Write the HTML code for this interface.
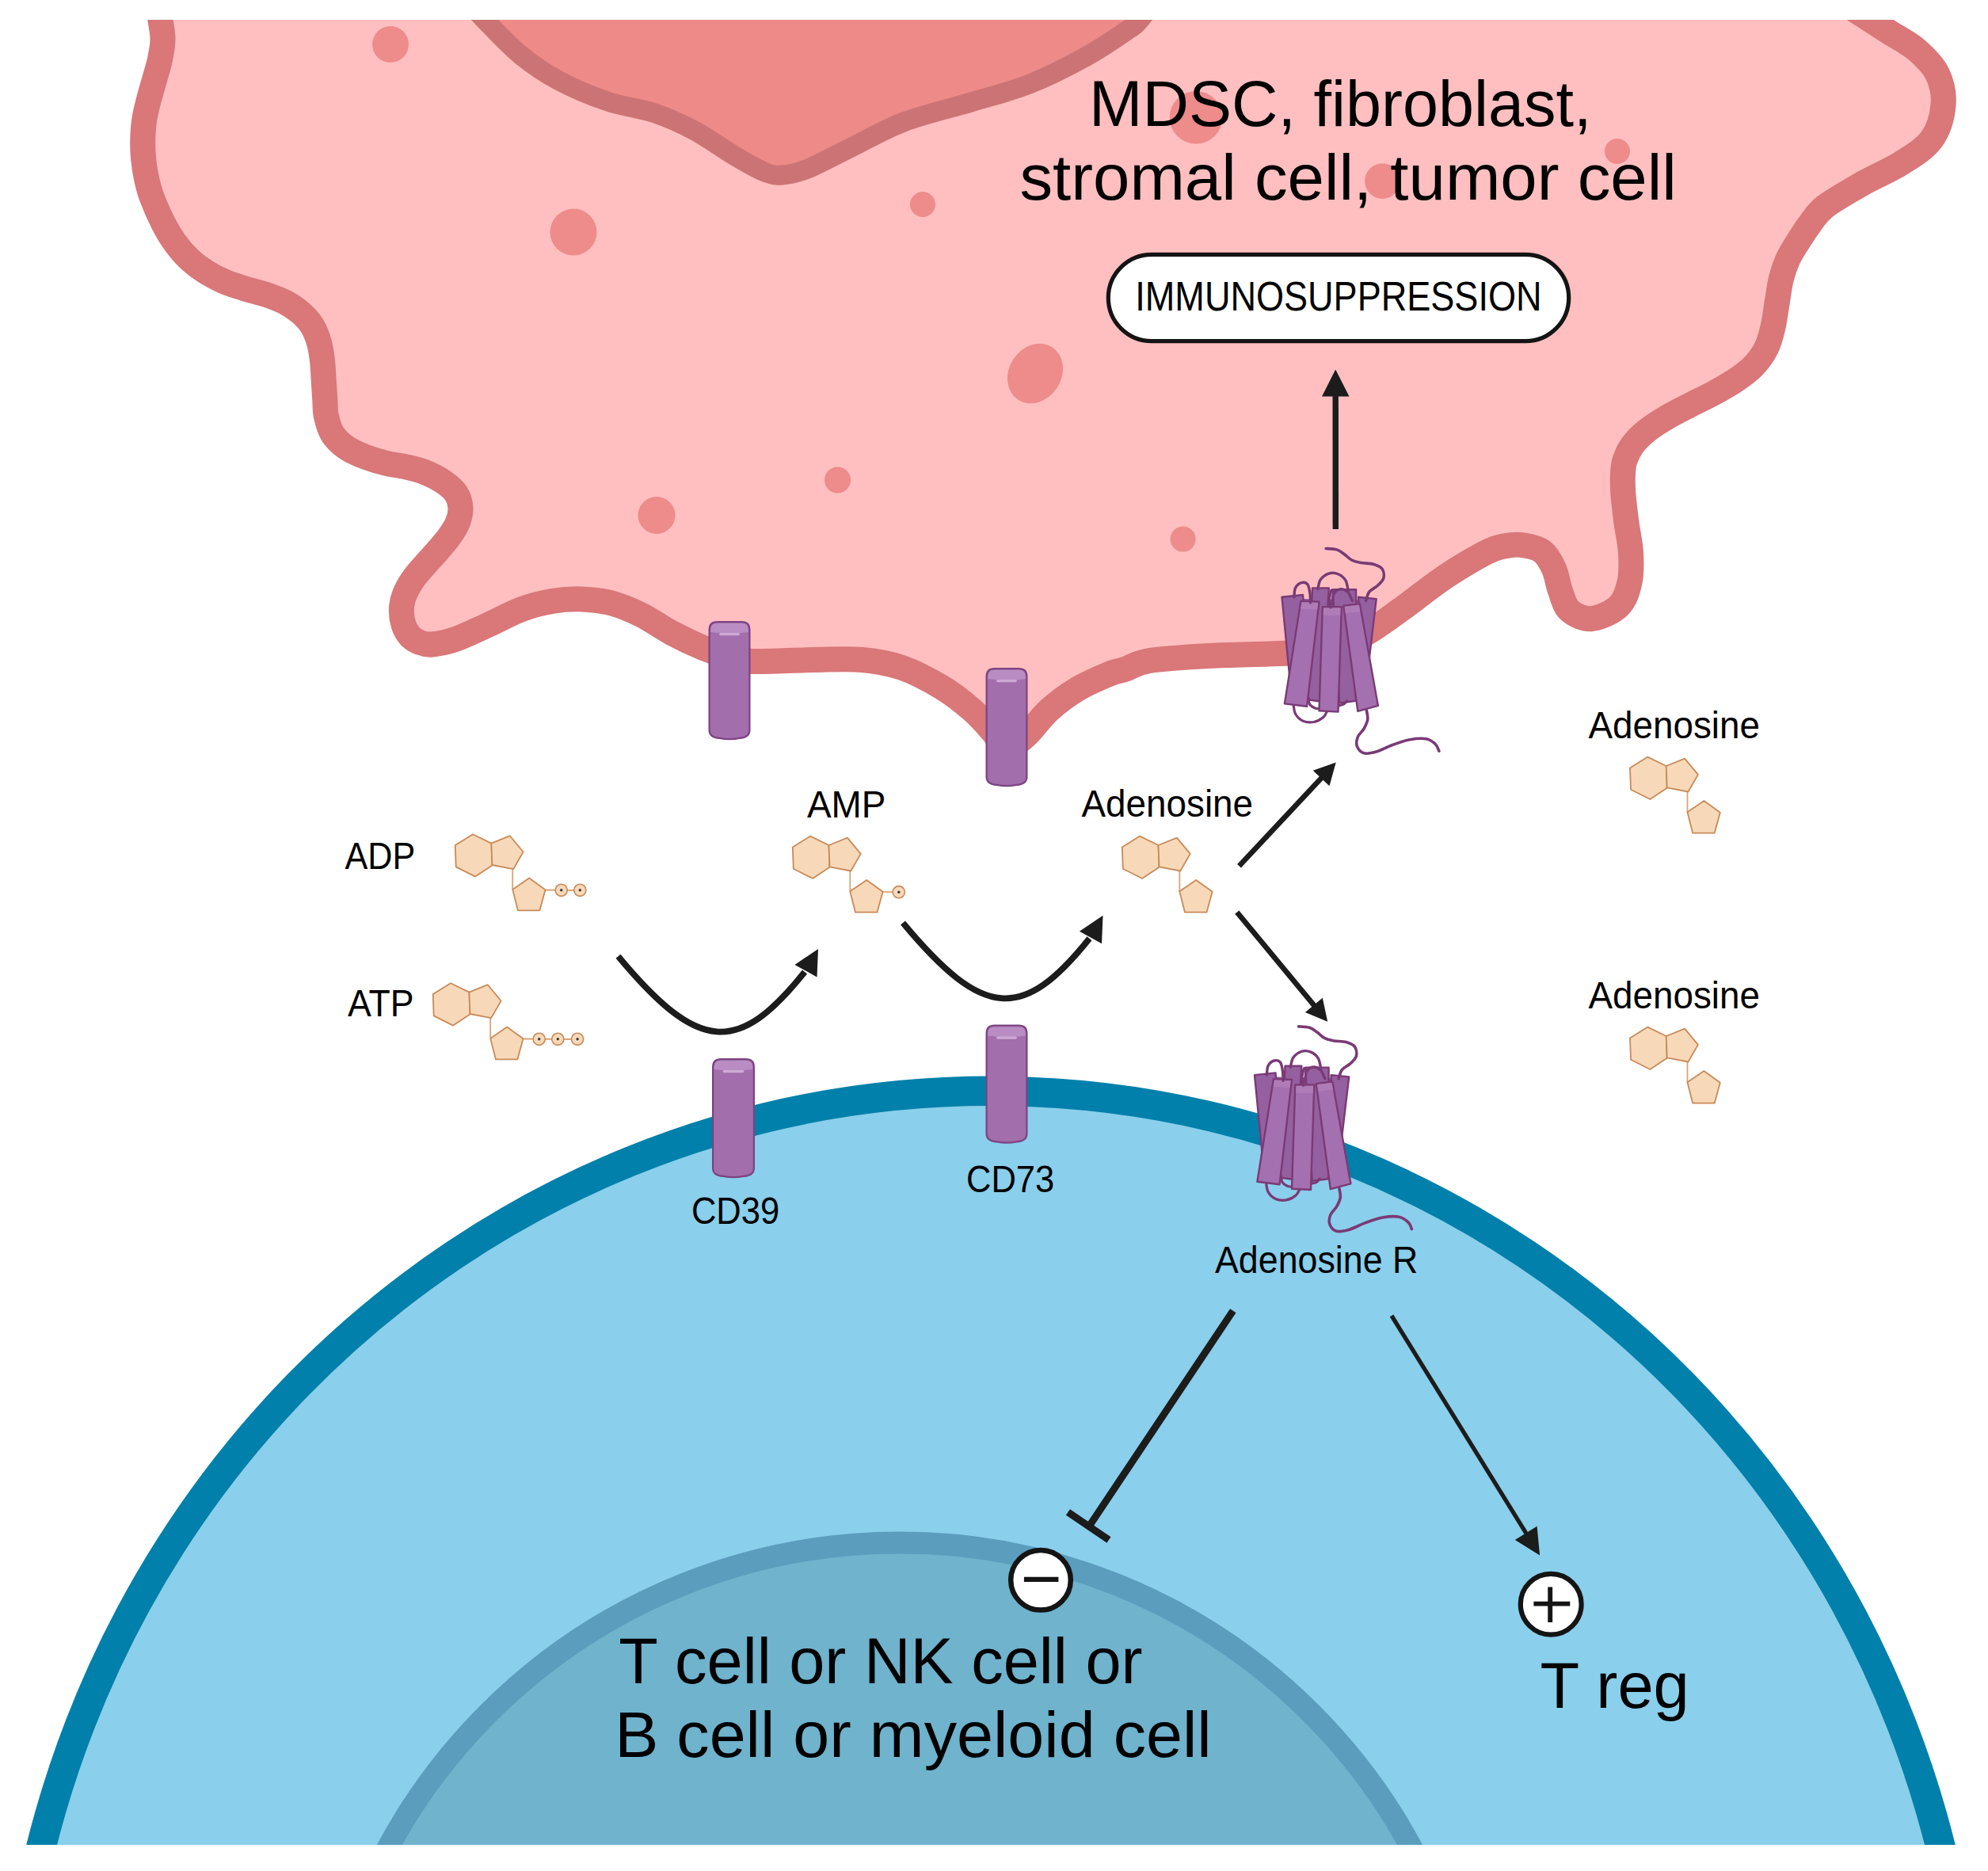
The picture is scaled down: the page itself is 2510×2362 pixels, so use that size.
<!DOCTYPE html>
<html><head><meta charset="utf-8"><title>Adenosine pathway</title>
<style>html,body{margin:0;padding:0;background:#fff;}svg{display:block;}text{font-family:"Liberation Sans",sans-serif;}</style>
</head><body>
<svg width="2510" height="2362" viewBox="0 0 2510 2362" font-family="Liberation Sans, sans-serif">
<defs><clipPath id="cl"><rect x="0" y="25" width="2510" height="2304"/></clipPath></defs>
<rect width="2510" height="2362" fill="#ffffff"/>
<g clip-path="url(#cl)">
<ellipse cx="1251" cy="2644.5" rx="1237.2" ry="1267.2" fill="#8acfeb" stroke="#0080aa" stroke-width="37.6"/>
<circle cx="1136" cy="2682" r="734.5" fill="#6fb3cd" stroke="#5a9dbd" stroke-width="28"/>
<path d="M196.0,-20.0 C197.1,-12.5 200.9,13.3 202.5,25.0 C204.1,36.7 205.6,41.7 205.5,50.0 C205.4,58.3 203.7,66.8 202.0,75.0 C200.3,83.2 197.8,90.8 195.5,99.0 C193.2,107.2 190.6,115.7 188.4,124.0 C186.2,132.3 183.9,140.7 182.6,149.0 C181.2,157.3 180.6,165.7 180.3,174.0 C180.0,182.3 180.3,190.7 181.0,199.0 C181.7,207.3 182.9,215.7 184.7,224.0 C186.5,232.3 188.2,239.6 191.7,249.0 C195.2,258.4 200.8,271.2 205.5,280.5 C210.2,289.8 214.4,297.1 219.8,304.7 C225.2,312.3 231.4,319.9 238.0,326.3 C244.6,332.7 252.1,338.1 259.5,342.9 C266.9,347.7 274.4,351.7 282.7,355.3 C291.0,358.9 300.3,361.6 309.2,364.4 C318.1,367.1 327.5,369.0 335.8,371.8 C344.1,374.6 351.8,377.3 359.0,381.0 C366.2,384.7 373.0,389.2 378.8,394.2 C384.6,399.2 389.8,404.4 393.8,410.8 C397.8,417.2 400.7,424.9 402.9,432.3 C405.1,439.8 406.0,447.5 407.0,455.5 C408.0,463.5 408.1,472.1 408.7,480.4 C409.2,488.7 409.8,497.8 410.3,505.2 C410.8,512.6 410.2,517.9 411.8,525.0 C413.4,532.1 415.8,541.4 419.9,548.0 C424.0,554.6 429.9,559.9 436.5,564.6 C443.1,569.3 451.4,572.9 459.7,576.2 C468.0,579.5 477.4,582.3 486.2,584.5 C495.0,586.7 504.4,587.6 512.7,589.5 C521.0,591.4 528.2,593.0 535.9,596.0 C543.6,599.0 552.4,603.3 559.0,607.7 C565.6,612.1 571.9,617.1 575.6,622.6 C579.3,628.1 581.0,634.7 581.4,640.8 C581.8,646.9 580.4,652.9 578.1,659.0 C575.8,665.1 571.7,671.2 567.4,677.3 C563.1,683.4 557.6,689.4 552.4,695.5 C547.1,701.6 541.1,707.7 535.9,713.8 C530.7,719.9 525.1,725.9 521.0,732.0 C516.9,738.1 513.4,744.1 511.0,750.2 C508.6,756.3 507.2,762.0 506.9,768.4 C506.6,774.8 507.6,782.5 509.4,788.3 C511.2,794.1 514.2,799.2 517.6,803.0 C521.0,806.8 525.3,809.2 530.0,811.0 C534.7,812.8 538.1,814.2 545.8,813.5 C553.5,812.8 564.3,810.8 576.0,806.7 C587.7,802.6 602.2,795.3 616.0,789.0 C629.8,782.7 645.5,774.0 659.0,769.0 C672.5,764.0 684.1,761.1 696.7,759.0 C709.3,756.9 721.9,756.0 734.4,756.4 C746.9,756.8 759.4,758.0 772.0,761.4 C784.6,764.8 797.3,770.2 810.0,776.5 C822.7,782.8 835.0,792.1 848.0,799.0 C861.0,805.9 876.0,813.0 888.0,818.0 C900.0,823.0 909.5,826.2 920.0,829.0 C930.5,831.8 933.3,834.3 951.0,835.0 C968.7,835.7 1003.0,833.3 1026.0,833.0 C1049.0,832.7 1070.2,831.3 1089.0,833.0 C1107.8,834.7 1122.2,837.2 1139.0,843.0 C1155.8,848.8 1174.8,859.2 1189.5,868.0 C1204.2,876.8 1216.6,887.0 1227.0,896.0 C1237.4,905.0 1244.5,913.3 1252.0,922.0 C1259.5,930.7 1268.7,943.7 1272.0,948.0 C1276.3,944.3 1289.2,934.7 1298.0,926.0 C1306.8,917.3 1314.5,905.4 1325.0,896.0 C1335.5,886.6 1348.5,877.0 1361.0,869.5 C1373.5,862.0 1390.2,855.1 1400.0,851.0 C1409.8,846.9 1411.4,847.8 1420.0,845.0 C1428.6,842.2 1433.7,836.8 1451.5,834.0 C1469.3,831.2 1501.9,829.4 1527.0,828.0 C1552.1,826.6 1581.5,826.3 1602.0,825.5 C1622.5,824.7 1635.2,824.6 1650.0,823.0 C1664.8,821.4 1677.8,820.3 1691.0,816.0 C1704.2,811.7 1716.2,804.7 1729.0,797.0 C1741.8,789.3 1752.0,781.5 1768.0,770.0 C1784.0,758.5 1806.8,740.2 1825.0,728.0 C1843.2,715.8 1864.7,703.4 1877.0,697.0 C1889.3,690.6 1891.7,691.0 1899.0,689.5 C1906.3,688.0 1913.0,686.9 1921.0,688.0 C1929.0,689.1 1940.2,691.0 1947.0,696.0 C1953.8,701.0 1958.2,709.7 1962.0,718.0 C1965.8,726.3 1966.7,737.2 1970.0,746.0 C1973.3,754.8 1975.3,765.2 1982.0,771.0 C1988.7,776.8 1999.7,782.0 2010.0,781.0 C2020.3,780.0 2036.1,772.7 2044.0,765.0 C2051.9,757.3 2055.0,746.2 2057.5,735.0 C2060.0,723.8 2059.7,710.5 2059.0,698.0 C2058.3,685.5 2055.1,672.2 2053.5,660.0 C2051.9,647.8 2050.3,635.0 2049.5,625.0 C2048.7,615.0 2048.6,607.2 2048.9,600.0 C2049.2,592.8 2049.3,588.0 2051.4,581.6 C2053.5,575.2 2056.6,568.1 2061.3,561.7 C2066.0,555.4 2072.3,549.3 2079.5,543.5 C2086.7,537.7 2095.6,532.2 2104.4,527.0 C2113.2,521.8 2122.9,517.0 2132.6,512.0 C2142.3,507.0 2152.7,502.2 2162.4,497.0 C2172.1,491.8 2182.0,486.4 2190.6,480.6 C2199.2,474.8 2207.2,469.2 2213.8,462.3 C2220.4,455.4 2226.2,447.3 2230.3,439.0 C2234.4,430.7 2236.4,422.0 2238.6,412.6 C2240.8,403.2 2241.9,392.7 2243.6,382.8 C2245.3,372.9 2246.4,362.1 2248.6,353.0 C2250.8,343.9 2253.6,335.7 2257.0,328.0 C2260.4,320.3 2264.3,314.5 2269.0,307.0 C2273.7,299.5 2279.2,290.7 2285.0,283.0 C2290.8,275.3 2293.0,269.5 2304.0,261.0 C2315.0,252.5 2334.9,241.2 2351.0,232.0 C2367.1,222.8 2385.8,215.4 2400.5,206.0 C2415.2,196.6 2430.2,187.8 2439.0,175.6 C2447.8,163.4 2452.3,146.4 2453.5,132.6 C2454.7,118.8 2451.6,104.6 2446.0,93.0 C2440.4,81.4 2430.0,71.7 2420.0,63.0 C2410.0,54.3 2395.7,47.2 2386.0,41.0 C2376.3,34.8 2376.3,35.0 2362.0,25.7 C2347.7,16.4 2310.3,-8.2 2300.0,-15.0 Z" fill="#ffbfc0" stroke="#d97779" stroke-width="32" stroke-linejoin="round"/>
<path d="M575.0,-15.0 C581.2,-8.3 598.2,10.8 612.0,25.0 C625.8,39.2 642.3,57.2 658.0,70.0 C673.7,82.8 687.8,92.3 706.0,102.0 C724.2,111.7 746.8,121.2 767.0,128.0 C787.2,134.8 808.7,136.8 827.0,143.0 C845.3,149.2 860.2,156.0 877.0,165.0 C893.8,174.0 913.3,188.3 928.0,197.0 C942.7,205.7 955.0,213.0 965.0,217.0 C975.0,221.0 978.8,221.7 988.0,221.0 C997.2,220.3 1005.5,218.8 1020.0,213.0 C1034.5,207.2 1054.8,195.8 1075.0,186.0 C1095.2,176.2 1115.8,163.5 1141.0,154.0 C1166.2,144.5 1199.5,137.0 1226.0,129.0 C1252.5,121.0 1275.7,115.7 1300.0,106.0 C1324.3,96.3 1351.2,82.5 1372.0,71.0 C1392.8,59.5 1413.8,44.7 1425.0,37.0 C1436.2,29.3 1431.5,33.7 1439.0,25.0 C1446.5,16.3 1464.8,-8.3 1470.0,-15.0 Z" fill="#ee8b89" stroke="#cc7475" stroke-width="25" stroke-linejoin="round"/>
<circle cx="493.0" cy="56.0" r="23.0" fill="#ee8b8b"/>
<circle cx="724.0" cy="293.0" r="29.5" fill="#ee8b8b"/>
<circle cx="1165.0" cy="258.0" r="16.0" fill="#ee8b8b"/>
<circle cx="1057.5" cy="606.0" r="16.5" fill="#ee8b8b"/>
<circle cx="829.0" cy="650.5" r="23.5" fill="#ee8b8b"/>
<circle cx="1510.0" cy="148.3" r="33.3" fill="#ee8b8b"/>
<circle cx="1745.5" cy="228.6" r="22.3" fill="#ee8b8b"/>
<circle cx="2042.0" cy="191.0" r="16.0" fill="#ee8b8b"/>
<circle cx="1493.6" cy="680.6" r="16.0" fill="#ee8b8b"/>
<ellipse cx="1307" cy="471.5" rx="39.5" ry="33" transform="rotate(-57 1307 471.5)" fill="#ee8b8b"/>
</g>
<g><path d="M895.6,795.1 Q895.6,785.1 905.6,785.1 L936.4,785.1 Q946.4,785.1 946.4,795.1 L946.4,921.9 Q946.4,930.9 933.4,931.9 Q921.0,934.4 908.6,931.9 Q895.6,930.9 895.6,921.9 Z" fill="#a26eab" stroke="#7d4382" stroke-width="2.2" stroke-linejoin="round"/><path d="M897.2,798.1 L897.2,795.1 Q897.2,786.7 905.6,786.7 L936.4,786.7 Q944.8,786.7 944.8,795.1 L944.8,798.1 Q921.0,801.1 897.2,798.1 Z" fill="#b98dc4"/><path d="M909.6,800.6 L932.4,800.6" fill="none" stroke="#cfa9d6" stroke-width="3.2" stroke-linecap="round"/></g>
<g><path d="M1245.6,854.1 Q1245.6,844.1 1255.6,844.1 L1286.4,844.1 Q1296.4,844.1 1296.4,854.1 L1296.4,980.9 Q1296.4,989.9 1283.4,990.9 Q1271.0,993.4 1258.6,990.9 Q1245.6,989.9 1245.6,980.9 Z" fill="#a26eab" stroke="#7d4382" stroke-width="2.2" stroke-linejoin="round"/><path d="M1247.2,857.1 L1247.2,854.1 Q1247.2,845.7 1255.6,845.7 L1286.4,845.7 Q1294.8,845.7 1294.8,854.1 L1294.8,857.1 Q1271.0,860.1 1247.2,857.1 Z" fill="#b98dc4"/><path d="M1259.6,859.6 L1282.4,859.6" fill="none" stroke="#cfa9d6" stroke-width="3.2" stroke-linecap="round"/></g>
<g><path d="M900.1,1347.1 Q900.1,1337.1 910.1,1337.1 L941.9,1337.1 Q951.9,1337.1 951.9,1347.1 L951.9,1474.9 Q951.9,1483.9 938.9,1484.9 Q926.0,1487.4 913.1,1484.9 Q900.1,1483.9 900.1,1474.9 Z" fill="#a26eab" stroke="#7d4382" stroke-width="2.2" stroke-linejoin="round"/><path d="M901.7,1350.1 L901.7,1347.1 Q901.7,1338.7 910.1,1338.7 L941.9,1338.7 Q950.3,1338.7 950.3,1347.1 L950.3,1350.1 Q926.0,1353.1 901.7,1350.1 Z" fill="#b98dc4"/><path d="M914.1,1352.6 L937.9,1352.6" fill="none" stroke="#cfa9d6" stroke-width="3.2" stroke-linecap="round"/></g>
<g><path d="M1245.6,1304.6 Q1245.6,1294.6 1255.6,1294.6 L1286.4,1294.6 Q1296.4,1294.6 1296.4,1304.6 L1296.4,1431.4 Q1296.4,1440.4 1283.4,1441.4 Q1271.0,1443.9 1258.6,1441.4 Q1245.6,1440.4 1245.6,1431.4 Z" fill="#a26eab" stroke="#7d4382" stroke-width="2.2" stroke-linejoin="round"/><path d="M1247.2,1307.6 L1247.2,1304.6 Q1247.2,1296.2 1255.6,1296.2 L1286.4,1296.2 Q1294.8,1296.2 1294.8,1304.6 L1294.8,1307.6 Q1271.0,1310.6 1247.2,1307.6 Z" fill="#b98dc4"/><path d="M1259.6,1310.1 L1282.4,1310.1" fill="none" stroke="#cfa9d6" stroke-width="3.2" stroke-linecap="round"/></g>
<g transform="translate(1580.0,660.0)" stroke="#7a3a76" stroke-width="2.4" stroke-linejoin="round" stroke-linecap="round"><polygon points="51.3,95.8 150.5,97.5 136.8,222.4 51.3,222.4" fill="#8f5a9a" stroke="none"/><polygon points="38.5,93.7 65.0,91.0 75.3,222.4 51.3,225.8" fill="#9560a0"/><polygon points="77.0,82.4 97.8,82.4 88.9,225.8 71.0,223.2" fill="#9560a0"/><polygon points="102.6,84.2 132.1,84.2 131.7,224.9 111.2,227.5" fill="#9560a0"/><polygon points="135.1,93.7 157.7,96.1 148.8,171.1 136.8,171.1" fill="#9560a0"/><path d="M53.0,229.2 C53.5,231.2 53.6,237.7 55.6,241.2 C57.6,244.7 61.2,248.4 65.0,250.1 C68.9,251.8 74.4,252.2 78.7,251.5 C83.0,250.7 87.8,247.9 90.7,245.5 C93.6,243.0 95.2,238.3 96.1,236.9" fill="none" stroke-width="3.2"/><path d="M71.8,220.7 C72.1,222.1 72.1,227.0 73.6,229.2 C75.0,231.4 78.1,233.1 80.4,234.0 C82.7,234.9 86.1,234.6 87.2,234.7" fill="none" stroke-width="3.2"/><path d="M109.5,230.9 C110.6,230.6 114.5,230.2 116.3,229.2 C118.2,228.2 119.9,225.7 120.6,224.9" fill="none" stroke-width="3.2"/><path d="M83.8,83.8 C84.4,81.8 85.0,75.1 87.2,71.8 C89.5,68.6 93.8,65.3 97.5,64.1 C101.2,62.9 105.9,63.2 109.5,64.7 C113.0,66.1 116.7,69.1 118.9,72.7 C121.0,76.3 121.7,84.1 122.3,86.4" fill="none" stroke-width="3.4"/><path d="M102.6,102.6 C102.8,100.6 102.1,93.8 103.5,90.7 C104.9,87.5 108.2,84.4 111.2,83.8 C114.2,83.2 118.7,84.8 121.5,87.2 C124.2,89.7 126.4,96.5 127.4,98.4" fill="none" stroke-width="3.4"/><polygon points="62.4,98.7 85.5,99.6 70.1,231.8 41.9,228.4" fill="#a570b0"/><polygon points="89.8,106.1 113.8,106.1 109.5,238.6 85.5,237.3" fill="#a570b0"/><polygon points="116.3,104.7 136.8,102.1 159.9,230.9 134.3,237.8" fill="#a570b0"/><polygon points="63.6,100.2 84.3,100.9 83.1,109.5 62.3,108.5" fill="#af7cb8" stroke="none"/><polygon points="91.0,107.4 112.6,107.4 112.2,116.7 90.7,116.7" fill="#af7cb8" stroke="none"/><polygon points="117.7,105.7 135.8,103.7 137.4,112.0 118.7,114.3" fill="#af7cb8" stroke="none"/><path d="M53.9,93.7 C54.2,91.8 54.0,85.1 55.6,82.1 C57.2,79.1 60.7,76.3 63.3,75.6 C65.9,74.9 69.2,75.6 71.0,77.8 C72.8,80.1 73.3,85.1 73.9,88.9 C74.5,92.8 74.5,98.9 74.6,100.9" fill="none" stroke-width="3.4"/><path d="M100.1,106.9 C99.8,105.1 98.2,99.4 98.4,95.8 C98.5,92.2 100.5,87.2 100.9,85.5" fill="none" stroke-width="3.4"/><path d="M144.5,98.4 C145.3,96.5 146.4,90.4 148.8,87.2 C151.2,84.1 156.1,82.4 159.1,79.5 C162.1,76.7 165.8,73.7 166.8,70.1 C167.8,66.6 167.2,61.2 165.1,58.2 C162.9,55.2 158.4,53.5 154.0,52.2 C149.5,50.9 143.1,51.3 138.6,50.5 C134.0,49.6 130.0,48.8 126.6,47.0 C123.2,45.3 121.2,42.4 118.0,40.2 C114.9,38.0 111.8,35.2 107.8,33.9 C103.8,32.6 96.4,32.7 94.1,32.5" fill="none" stroke-width="3.6"/><path d="M145.4,236.9 C145.6,238.8 147.3,244.2 146.8,248.0 C146.2,251.9 144.1,256.3 142.0,260.0 C139.9,263.7 135.7,266.6 134.3,270.3 C132.9,274.0 132.1,278.8 133.4,282.2 C134.7,285.7 138.0,289.7 142.0,290.8 C146.0,291.9 151.4,290.8 157.4,289.1 C163.4,287.4 170.8,283.1 177.9,280.5 C185.0,278.0 193.0,275.0 200.1,273.7 C207.3,272.4 215.2,271.8 220.7,272.8 C226.1,273.8 229.9,277.1 232.6,279.7 C235.3,282.2 236.2,286.8 236.9,288.2" fill="none" stroke-width="3.6"/></g>
<g transform="translate(1545.5,1263.4)" stroke="#7a3a76" stroke-width="2.4" stroke-linejoin="round" stroke-linecap="round"><polygon points="51.3,95.8 150.5,97.5 136.8,222.4 51.3,222.4" fill="#8f5a9a" stroke="none"/><polygon points="38.5,93.7 65.0,91.0 75.3,222.4 51.3,225.8" fill="#9560a0"/><polygon points="77.0,82.4 97.8,82.4 88.9,225.8 71.0,223.2" fill="#9560a0"/><polygon points="102.6,84.2 132.1,84.2 131.7,224.9 111.2,227.5" fill="#9560a0"/><polygon points="135.1,93.7 157.7,96.1 148.8,171.1 136.8,171.1" fill="#9560a0"/><path d="M53.0,229.2 C53.5,231.2 53.6,237.7 55.6,241.2 C57.6,244.7 61.2,248.4 65.0,250.1 C68.9,251.8 74.4,252.2 78.7,251.5 C83.0,250.7 87.8,247.9 90.7,245.5 C93.6,243.0 95.2,238.3 96.1,236.9" fill="none" stroke-width="3.2"/><path d="M71.8,220.7 C72.1,222.1 72.1,227.0 73.6,229.2 C75.0,231.4 78.1,233.1 80.4,234.0 C82.7,234.9 86.1,234.6 87.2,234.7" fill="none" stroke-width="3.2"/><path d="M109.5,230.9 C110.6,230.6 114.5,230.2 116.3,229.2 C118.2,228.2 119.9,225.7 120.6,224.9" fill="none" stroke-width="3.2"/><path d="M83.8,83.8 C84.4,81.8 85.0,75.1 87.2,71.8 C89.5,68.6 93.8,65.3 97.5,64.1 C101.2,62.9 105.9,63.2 109.5,64.7 C113.0,66.1 116.7,69.1 118.9,72.7 C121.0,76.3 121.7,84.1 122.3,86.4" fill="none" stroke-width="3.4"/><path d="M102.6,102.6 C102.8,100.6 102.1,93.8 103.5,90.7 C104.9,87.5 108.2,84.4 111.2,83.8 C114.2,83.2 118.7,84.8 121.5,87.2 C124.2,89.7 126.4,96.5 127.4,98.4" fill="none" stroke-width="3.4"/><polygon points="62.4,98.7 85.5,99.6 70.1,231.8 41.9,228.4" fill="#a570b0"/><polygon points="89.8,106.1 113.8,106.1 109.5,238.6 85.5,237.3" fill="#a570b0"/><polygon points="116.3,104.7 136.8,102.1 159.9,230.9 134.3,237.8" fill="#a570b0"/><polygon points="63.6,100.2 84.3,100.9 83.1,109.5 62.3,108.5" fill="#af7cb8" stroke="none"/><polygon points="91.0,107.4 112.6,107.4 112.2,116.7 90.7,116.7" fill="#af7cb8" stroke="none"/><polygon points="117.7,105.7 135.8,103.7 137.4,112.0 118.7,114.3" fill="#af7cb8" stroke="none"/><path d="M53.9,93.7 C54.2,91.8 54.0,85.1 55.6,82.1 C57.2,79.1 60.7,76.3 63.3,75.6 C65.9,74.9 69.2,75.6 71.0,77.8 C72.8,80.1 73.3,85.1 73.9,88.9 C74.5,92.8 74.5,98.9 74.6,100.9" fill="none" stroke-width="3.4"/><path d="M100.1,106.9 C99.8,105.1 98.2,99.4 98.4,95.8 C98.5,92.2 100.5,87.2 100.9,85.5" fill="none" stroke-width="3.4"/><path d="M144.5,98.4 C145.3,96.5 146.4,90.4 148.8,87.2 C151.2,84.1 156.1,82.4 159.1,79.5 C162.1,76.7 165.8,73.7 166.8,70.1 C167.8,66.6 167.2,61.2 165.1,58.2 C162.9,55.2 158.4,53.5 154.0,52.2 C149.5,50.9 143.1,51.3 138.6,50.5 C134.0,49.6 130.0,48.8 126.6,47.0 C123.2,45.3 121.2,42.4 118.0,40.2 C114.9,38.0 111.8,35.2 107.8,33.9 C103.8,32.6 96.4,32.7 94.1,32.5" fill="none" stroke-width="3.6"/><path d="M145.4,236.9 C145.6,238.8 147.3,244.2 146.8,248.0 C146.2,251.9 144.1,256.3 142.0,260.0 C139.9,263.7 135.7,266.6 134.3,270.3 C132.9,274.0 132.1,278.8 133.4,282.2 C134.7,285.7 138.0,289.7 142.0,290.8 C146.0,291.9 151.4,290.8 157.4,289.1 C163.4,287.4 170.8,283.1 177.9,280.5 C185.0,278.0 193.0,275.0 200.1,273.7 C207.3,272.4 215.2,271.8 220.7,272.8 C226.1,273.8 229.9,277.1 232.6,279.7 C235.3,282.2 236.2,286.8 236.9,288.2" fill="none" stroke-width="3.6"/></g>
<g transform="translate(574.7,1067.0)" fill="#f7d9ba" stroke="#c98a58" stroke-width="1.8" stroke-linejoin="round"><path d="M72.5,30.1 L72.5,55.9" fill="none" stroke="#d9a277"/><path d="M113.8,56.5 L157.6,57" fill="none" stroke="#d9a277"/><polygon points="0.0,0.0 22.3,-13.8 45.7,-2.4 46.7,25.4 25.4,39.6 1.0,27.4"/><polygon points="45.7,-2.4 69.1,-11.8 85.9,8.5 73.5,30.1 46.7,25.0"/><polygon points="72.5,55.9 93.4,41.6 113.8,56.3 106.7,82.3 79.2,82.3"/><circle cx="134.0" cy="56.8" r="7.6" stroke-width="1.6"/><circle cx="134.0" cy="56.8" r="1.7" fill="#3a3a3a" stroke="none"/><circle cx="157.6" cy="56.8" r="7.6" stroke-width="1.6"/><circle cx="157.6" cy="56.8" r="1.7" fill="#3a3a3a" stroke="none"/></g>
<g transform="translate(546.7,1255.0)" fill="#f7d9ba" stroke="#c98a58" stroke-width="1.8" stroke-linejoin="round"><path d="M72.5,30.1 L72.5,55.9" fill="none" stroke="#d9a277"/><path d="M113.8,56.5 L182.4,57" fill="none" stroke="#d9a277"/><polygon points="0.0,0.0 22.3,-13.8 45.7,-2.4 46.7,25.4 25.4,39.6 1.0,27.4"/><polygon points="45.7,-2.4 69.1,-11.8 85.9,8.5 73.5,30.1 46.7,25.0"/><polygon points="72.5,55.9 93.4,41.6 113.8,56.3 106.7,82.3 79.2,82.3"/><circle cx="134.0" cy="56.8" r="7.6" stroke-width="1.6"/><circle cx="134.0" cy="56.8" r="1.7" fill="#3a3a3a" stroke="none"/><circle cx="157.6" cy="56.8" r="7.6" stroke-width="1.6"/><circle cx="157.6" cy="56.8" r="1.7" fill="#3a3a3a" stroke="none"/><circle cx="182.4" cy="56.8" r="7.6" stroke-width="1.6"/><circle cx="182.4" cy="56.8" r="1.7" fill="#3a3a3a" stroke="none"/></g>
<g transform="translate(1000.8,1069.4)" fill="#f7d9ba" stroke="#c98a58" stroke-width="1.8" stroke-linejoin="round"><path d="M72.5,30.1 L72.5,55.9" fill="none" stroke="#d9a277"/><path d="M113.8,56.5 L134.0,57" fill="none" stroke="#d9a277"/><polygon points="0.0,0.0 22.3,-13.8 45.7,-2.4 46.7,25.4 25.4,39.6 1.0,27.4"/><polygon points="45.7,-2.4 69.1,-11.8 85.9,8.5 73.5,30.1 46.7,25.0"/><polygon points="72.5,55.9 93.4,41.6 113.8,56.3 106.7,82.3 79.2,82.3"/><circle cx="134.0" cy="56.8" r="7.6" stroke-width="1.6"/><circle cx="134.0" cy="56.8" r="1.7" fill="#3a3a3a" stroke="none"/></g>
<g transform="translate(1416.8,1069.4)" fill="#f7d9ba" stroke="#c98a58" stroke-width="1.8" stroke-linejoin="round"><path d="M72.5,30.1 L72.5,55.9" fill="none" stroke="#d9a277"/><polygon points="0.0,0.0 22.3,-13.8 45.7,-2.4 46.7,25.4 25.4,39.6 1.0,27.4"/><polygon points="45.7,-2.4 69.1,-11.8 85.9,8.5 73.5,30.1 46.7,25.0"/><polygon points="72.5,55.9 93.4,41.6 113.8,56.3 106.7,82.3 79.2,82.3"/></g>
<g transform="translate(2058.0,969.4)" fill="#f7d9ba" stroke="#c98a58" stroke-width="1.8" stroke-linejoin="round"><path d="M72.5,30.1 L72.5,55.9" fill="none" stroke="#d9a277"/><polygon points="0.0,0.0 22.3,-13.8 45.7,-2.4 46.7,25.4 25.4,39.6 1.0,27.4"/><polygon points="45.7,-2.4 69.1,-11.8 85.9,8.5 73.5,30.1 46.7,25.0"/><polygon points="72.5,55.9 93.4,41.6 113.8,56.3 106.7,82.3 79.2,82.3"/></g>
<g transform="translate(2058.0,1310.4)" fill="#f7d9ba" stroke="#c98a58" stroke-width="1.8" stroke-linejoin="round"><path d="M72.5,30.1 L72.5,55.9" fill="none" stroke="#d9a277"/><polygon points="0.0,0.0 22.3,-13.8 45.7,-2.4 46.7,25.4 25.4,39.6 1.0,27.4"/><polygon points="45.7,-2.4 69.1,-11.8 85.9,8.5 73.5,30.1 46.7,25.0"/><polygon points="72.5,55.9 93.4,41.6 113.8,56.3 106.7,82.3 79.2,82.3"/></g>
<g transform="translate(0.0,0.0)"><path d="M780.5,1207.3 C881.9,1329.3 931.9,1332.3 1016,1227" fill="none" stroke="#1c1c1c" stroke-width="7.8"/><polygon points="1033,1198 1003.4,1217.9 1031.5,1233.4" fill="#1c1c1c"/></g>
<g transform="translate(359.5,-42.2)"><path d="M780.5,1207.3 C881.9,1329.3 931.9,1332.3 1016,1227" fill="none" stroke="#1c1c1c" stroke-width="7.8"/><polygon points="1033,1198 1003.4,1217.9 1031.5,1233.4" fill="#1c1c1c"/></g>
<line x1="1686.3" y1="668.0" x2="1686.2" y2="498.4" stroke="#1c1c1c" stroke-width="7.4"/><polygon points="1686.2,466.4 1703.5,500.4 1669.0,500.4" fill="#1c1c1c"/>
<line x1="1564.5" y1="1093.2" x2="1669.5" y2="981.0" stroke="#1c1c1c" stroke-width="6.7"/><polygon points="1686.7,962.6 1678.5,992.2 1657.7,972.7" fill="#1c1c1c"/>
<line x1="1561.8" y1="1151.7" x2="1660.1" y2="1270.4" stroke="#1c1c1c" stroke-width="6.7"/><polygon points="1676.2,1289.8 1647.9,1277.9 1669.8,1259.8" fill="#1c1c1c"/>
<line x1="1757.0" y1="1661.0" x2="1927.8" y2="1937.1" stroke="#1c1c1c" stroke-width="5.3"/><polygon points="1944.1,1963.5 1912.8,1944.0 1940.6,1926.8" fill="#1c1c1c"/>
<line x1="1556.8" y1="1654.7" x2="1375" y2="1927" stroke="#1c1c1c" stroke-width="9"/>
<line x1="1348.4" y1="1909" x2="1400" y2="1944" stroke="#1c1c1c" stroke-width="9"/>
<circle cx="1314" cy="1994.8" r="37.8" fill="#fff" stroke="#141414" stroke-width="6.5"/>
<line x1="1292.9" y1="1993.9" x2="1336.4" y2="1993.9" stroke="#141414" stroke-width="6.3"/>
<circle cx="1958.2" cy="2025.2" r="38.4" fill="#fff" stroke="#141414" stroke-width="6.2"/>
<line x1="1936.4" y1="2024.6" x2="1982.3" y2="2024.6" stroke="#141414" stroke-width="5.9"/>
<line x1="1957.2" y1="2003.5" x2="1957.2" y2="2048" stroke="#141414" stroke-width="5.9"/>
<rect x="1399.3" y="321.3" width="581.4" height="109.4" rx="54.7" fill="#fff" stroke="#141414" stroke-width="5.2"/>
<g fill="#000">
<text x="1375.1" y="158.7" font-size="82.0" text-anchor="start" textLength="634.3" lengthAdjust="spacingAndGlyphs" >MDSC, fibroblast,</text>
<text x="1287.4" y="251.6" font-size="82.0" text-anchor="start" textLength="829.4" lengthAdjust="spacingAndGlyphs" >stromal cell, tumor cell</text>
<text x="1433.3" y="391.5" font-size="51.0" text-anchor="start" textLength="513.2" lengthAdjust="spacingAndGlyphs" >IMMUNOSUPPRESSION</text>
<text x="435.6" y="1097.0" font-size="47.5" text-anchor="start" textLength="88.7" lengthAdjust="spacingAndGlyphs" >ADP</text>
<text x="439.0" y="1283.0" font-size="47.5" text-anchor="start" textLength="83.6" lengthAdjust="spacingAndGlyphs" >ATP</text>
<text x="1019.0" y="1031.8" font-size="47.5" text-anchor="start" textLength="99.4" lengthAdjust="spacingAndGlyphs" >AMP</text>
<text x="1365.4" y="1030.8" font-size="47.5" text-anchor="start" textLength="216.7" lengthAdjust="spacingAndGlyphs" >Adenosine</text>
<text x="2005.4" y="932.0" font-size="47.5" text-anchor="start" textLength="216.6" lengthAdjust="spacingAndGlyphs" >Adenosine</text>
<text x="2005.4" y="1273.0" font-size="47.5" text-anchor="start" textLength="216.6" lengthAdjust="spacingAndGlyphs" >Adenosine</text>
<text x="872.9" y="1544.7" font-size="47.5" text-anchor="start" textLength="111.3" lengthAdjust="spacingAndGlyphs" >CD39</text>
<text x="1220.0" y="1504.9" font-size="47.5" text-anchor="start" textLength="111.2" lengthAdjust="spacingAndGlyphs" >CD73</text>
<text x="1534.0" y="1607.3" font-size="47.5" text-anchor="start" textLength="256.4" lengthAdjust="spacingAndGlyphs" >Adenosine R</text>
<text x="781.3" y="2125.4" font-size="82.0" text-anchor="start" textLength="661.3" lengthAdjust="spacingAndGlyphs" >T cell or NK cell or</text>
<text x="776.2" y="2218.2" font-size="82.0" text-anchor="start" textLength="753.5" lengthAdjust="spacingAndGlyphs" >B cell or myeloid cell</text>
<text x="1944.6" y="2155.8" font-size="82.0" text-anchor="start" textLength="188.2" lengthAdjust="spacingAndGlyphs" >T reg</text>
</g>
</svg>
</body></html>
